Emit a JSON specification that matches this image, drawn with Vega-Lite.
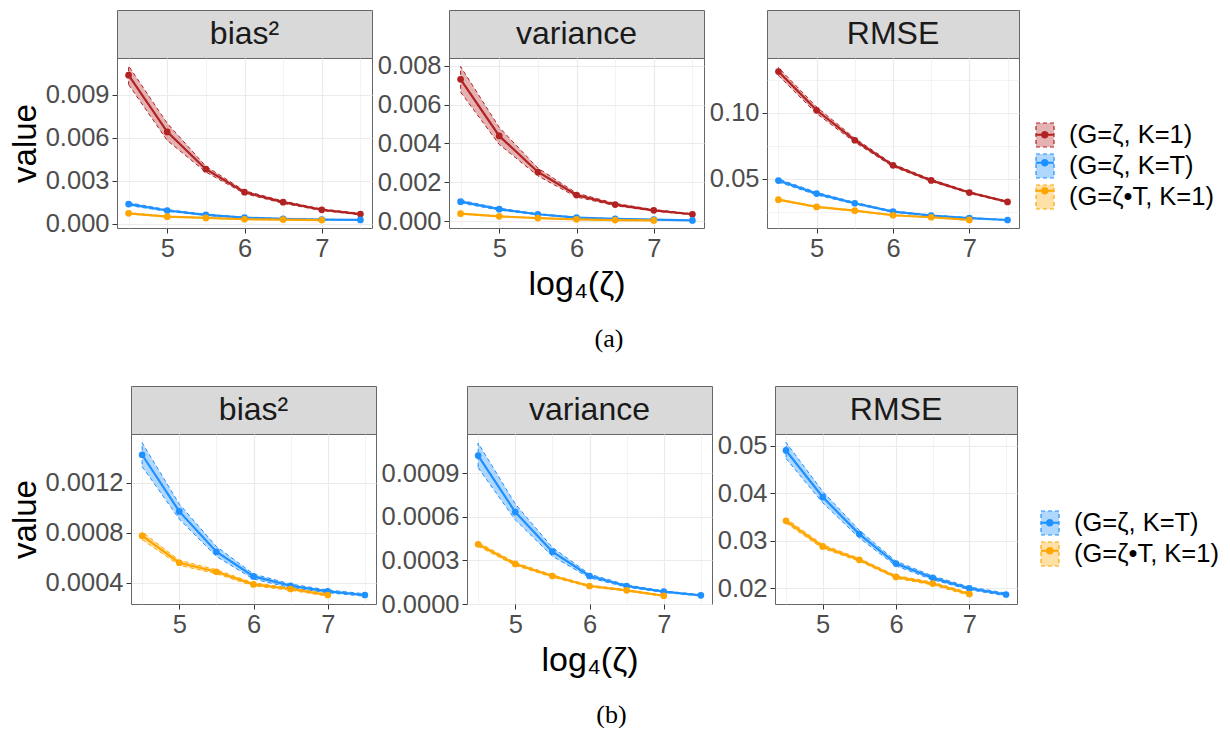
{
"$schema": "https://vega.github.io/schema/vega-lite/v6.json",
"padding": {"left": 4, "top": 9, "right": 0, "bottom": 0},
"background": "white",
"datasets": {"d": [
{"f":"a","m":"b2","s":"(G=ζ, K=1)","x":4.5,"v":0.01035,"lo":0.0097,"hi":0.011},
{"f":"a","m":"b2","s":"(G=ζ, K=1)","x":5,"v":0.0064,"lo":0.0058,"hi":0.007},
{"f":"a","m":"b2","s":"(G=ζ, K=1)","x":5.5,"v":0.0038,"lo":0.0036,"hi":0.004},
{"f":"a","m":"b2","s":"(G=ζ, K=1)","x":6,"v":0.0022,"lo":0.0021,"hi":0.0023},
{"f":"a","m":"b2","s":"(G=ζ, K=1)","x":6.5,"v":0.0015,"lo":0.00142,"hi":0.00158},
{"f":"a","m":"b2","s":"(G=ζ, K=1)","x":7,"v":0.00097,"lo":0.00091,"hi":0.00103},
{"f":"a","m":"b2","s":"(G=ζ, K=1)","x":7.5,"v":0.00067,"lo":0.00062,"hi":0.00072},
{"f":"a","m":"b2","s":"(G=ζ, K=T)","x":4.5,"v":0.00137,"lo":0.00127,"hi":0.00147},
{"f":"a","m":"b2","s":"(G=ζ, K=T)","x":5,"v":0.00092,"lo":0.00086,"hi":0.00098},
{"f":"a","m":"b2","s":"(G=ζ, K=T)","x":5.5,"v":0.00062,"lo":0.00058,"hi":0.00066},
{"f":"a","m":"b2","s":"(G=ζ, K=T)","x":6,"v":0.00042,"lo":0.00039,"hi":0.00045},
{"f":"a","m":"b2","s":"(G=ζ, K=T)","x":6.5,"v":0.00034,"lo":0.00032,"hi":0.00036},
{"f":"a","m":"b2","s":"(G=ζ, K=T)","x":7,"v":0.00029,"lo":0.00027,"hi":0.00031},
{"f":"a","m":"b2","s":"(G=ζ, K=T)","x":7.5,"v":0.00026,"lo":0.00025,"hi":0.00027},
{"f":"a","m":"b2","s":"(G=ζ•T, K=1)","x":4.5,"v":0.00072,"lo":0.00068,"hi":0.00076},
{"f":"a","m":"b2","s":"(G=ζ•T, K=1)","x":5,"v":0.00049,"lo":0.00046,"hi":0.00052},
{"f":"a","m":"b2","s":"(G=ζ•T, K=1)","x":5.5,"v":0.0004,"lo":0.00038,"hi":0.00042},
{"f":"a","m":"b2","s":"(G=ζ•T, K=1)","x":6,"v":0.00031,"lo":0.00029,"hi":0.00033},
{"f":"a","m":"b2","s":"(G=ζ•T, K=1)","x":6.5,"v":0.00029,"lo":0.00027,"hi":0.00031},
{"f":"a","m":"b2","s":"(G=ζ•T, K=1)","x":7,"v":0.00025,"lo":0.00023,"hi":0.00027},
{"f":"a","m":"var","s":"(G=ζ, K=1)","x":4.5,"v":0.00731,"lo":0.00665,"hi":0.00797},
{"f":"a","m":"var","s":"(G=ζ, K=1)","x":5,"v":0.00439,"lo":0.00395,"hi":0.00483},
{"f":"a","m":"var","s":"(G=ζ, K=1)","x":5.5,"v":0.00253,"lo":0.00233,"hi":0.00273},
{"f":"a","m":"var","s":"(G=ζ, K=1)","x":6,"v":0.00134,"lo":0.00124,"hi":0.00144},
{"f":"a","m":"var","s":"(G=ζ, K=1)","x":6.5,"v":0.00085,"lo":0.00079,"hi":0.00091},
{"f":"a","m":"var","s":"(G=ζ, K=1)","x":7,"v":0.00055,"lo":0.00051,"hi":0.00059},
{"f":"a","m":"var","s":"(G=ζ, K=1)","x":7.5,"v":0.00035,"lo":0.00032,"hi":0.00038},
{"f":"a","m":"var","s":"(G=ζ, K=T)","x":4.5,"v":0.001,"lo":0.00093,"hi":0.00107},
{"f":"a","m":"var","s":"(G=ζ, K=T)","x":5,"v":0.00061,"lo":0.00056,"hi":0.00066},
{"f":"a","m":"var","s":"(G=ζ, K=T)","x":5.5,"v":0.00035,"lo":0.00032,"hi":0.00038},
{"f":"a","m":"var","s":"(G=ζ, K=T)","x":6,"v":0.00018,"lo":0.00016,"hi":0.0002},
{"f":"a","m":"var","s":"(G=ζ, K=T)","x":6.5,"v":0.00011,"lo":0.0001,"hi":0.00012},
{"f":"a","m":"var","s":"(G=ζ, K=T)","x":7,"v":0.00007,"lo":0.00006,"hi":0.00008},
{"f":"a","m":"var","s":"(G=ζ, K=T)","x":7.5,"v":0.00003,"lo":0.000025,"hi":0.000035},
{"f":"a","m":"var","s":"(G=ζ•T, K=1)","x":4.5,"v":0.00038,"lo":0.00036,"hi":0.0004},
{"f":"a","m":"var","s":"(G=ζ•T, K=1)","x":5,"v":0.00024,"lo":0.00023,"hi":0.00025},
{"f":"a","m":"var","s":"(G=ζ•T, K=1)","x":5.5,"v":0.00015,"lo":0.00014,"hi":0.00016},
{"f":"a","m":"var","s":"(G=ζ•T, K=1)","x":6,"v":0.00009,"lo":0.000085,"hi":0.000095},
{"f":"a","m":"var","s":"(G=ζ•T, K=1)","x":6.5,"v":0.00005,"lo":0.000046,"hi":0.000054},
{"f":"a","m":"var","s":"(G=ζ•T, K=1)","x":7,"v":0.00003,"lo":0.000027,"hi":0.000033},
{"f":"a","m":"rmse","s":"(G=ζ, K=1)","x":4.5,"v":0.1311,"lo":0.1281,"hi":0.1341},
{"f":"a","m":"rmse","s":"(G=ζ, K=1)","x":5,"v":0.1018,"lo":0.0993,"hi":0.1043},
{"f":"a","m":"rmse","s":"(G=ζ, K=1)","x":5.5,"v":0.0791,"lo":0.0776,"hi":0.0806},
{"f":"a","m":"rmse","s":"(G=ζ, K=1)","x":6,"v":0.0601,"lo":0.0591,"hi":0.0611},
{"f":"a","m":"rmse","s":"(G=ζ, K=1)","x":6.5,"v":0.0487,"lo":0.0479,"hi":0.0495},
{"f":"a","m":"rmse","s":"(G=ζ, K=1)","x":7,"v":0.0395,"lo":0.0389,"hi":0.0401},
{"f":"a","m":"rmse","s":"(G=ζ, K=1)","x":7.5,"v":0.0324,"lo":0.0319,"hi":0.0329},
{"f":"a","m":"rmse","s":"(G=ζ, K=T)","x":4.5,"v":0.0486,"lo":0.0474,"hi":0.0498},
{"f":"a","m":"rmse","s":"(G=ζ, K=T)","x":5,"v":0.0387,"lo":0.0377,"hi":0.0397},
{"f":"a","m":"rmse","s":"(G=ζ, K=T)","x":5.5,"v":0.0314,"lo":0.0307,"hi":0.0321},
{"f":"a","m":"rmse","s":"(G=ζ, K=T)","x":6,"v":0.0251,"lo":0.0246,"hi":0.0256},
{"f":"a","m":"rmse","s":"(G=ζ, K=T)","x":6.5,"v":0.0221,"lo":0.0217,"hi":0.0225},
{"f":"a","m":"rmse","s":"(G=ζ, K=T)","x":7,"v":0.0202,"lo":0.0199,"hi":0.0205},
{"f":"a","m":"rmse","s":"(G=ζ, K=T)","x":7.5,"v":0.0187,"lo":0.0184,"hi":0.019},
{"f":"a","m":"rmse","s":"(G=ζ•T, K=1)","x":4.5,"v":0.0341,"lo":0.0337,"hi":0.0345},
{"f":"a","m":"rmse","s":"(G=ζ•T, K=1)","x":5,"v":0.0286,"lo":0.0283,"hi":0.0289},
{"f":"a","m":"rmse","s":"(G=ζ•T, K=1)","x":5.5,"v":0.0258,"lo":0.0255,"hi":0.0261},
{"f":"a","m":"rmse","s":"(G=ζ•T, K=1)","x":6,"v":0.0223,"lo":0.022,"hi":0.0226},
{"f":"a","m":"rmse","s":"(G=ζ•T, K=1)","x":6.5,"v":0.0208,"lo":0.0205,"hi":0.0211},
{"f":"a","m":"rmse","s":"(G=ζ•T, K=1)","x":7,"v":0.0188,"lo":0.0185,"hi":0.0191},
{"f":"b","m":"b2","s":"(G=ζ, K=T)","x":4.5,"v":0.001424,"lo":0.00133,"hi":0.00152},
{"f":"b","m":"b2","s":"(G=ζ, K=T)","x":5,"v":0.000971,"lo":0.00091,"hi":0.00103},
{"f":"b","m":"b2","s":"(G=ζ, K=T)","x":5.5,"v":0.000648,"lo":0.00061,"hi":0.00069},
{"f":"b","m":"b2","s":"(G=ζ, K=T)","x":6,"v":0.000451,"lo":0.00043,"hi":0.00047},
{"f":"b","m":"b2","s":"(G=ζ, K=T)","x":6.5,"v":0.000376,"lo":0.00036,"hi":0.00039},
{"f":"b","m":"b2","s":"(G=ζ, K=T)","x":7,"v":0.000331,"lo":0.00032,"hi":0.000342},
{"f":"b","m":"b2","s":"(G=ζ, K=T)","x":7.5,"v":0.000302,"lo":0.000292,"hi":0.000312},
{"f":"b","m":"b2","s":"(G=ζ•T, K=1)","x":4.5,"v":0.000776,"lo":0.000745,"hi":0.000807},
{"f":"b","m":"b2","s":"(G=ζ•T, K=1)","x":5,"v":0.00056,"lo":0.00054,"hi":0.00058},
{"f":"b","m":"b2","s":"(G=ζ•T, K=1)","x":5.5,"v":0.000488,"lo":0.000472,"hi":0.000504},
{"f":"b","m":"b2","s":"(G=ζ•T, K=1)","x":6,"v":0.000387,"lo":0.000375,"hi":0.000399},
{"f":"b","m":"b2","s":"(G=ζ•T, K=1)","x":6.5,"v":0.00035,"lo":0.00034,"hi":0.00036},
{"f":"b","m":"b2","s":"(G=ζ•T, K=1)","x":7,"v":0.000302,"lo":0.000292,"hi":0.000312},
{"f":"b","m":"var","s":"(G=ζ, K=T)","x":4.5,"v":0.001023,"lo":0.00094,"hi":0.00111},
{"f":"b","m":"var","s":"(G=ζ, K=T)","x":5,"v":0.000634,"lo":0.00058,"hi":0.00069},
{"f":"b","m":"var","s":"(G=ζ, K=T)","x":5.5,"v":0.000361,"lo":0.00033,"hi":0.00039},
{"f":"b","m":"var","s":"(G=ζ, K=T)","x":6,"v":0.000193,"lo":0.00018,"hi":0.000206},
{"f":"b","m":"var","s":"(G=ζ, K=T)","x":6.5,"v":0.000124,"lo":0.000116,"hi":0.000132},
{"f":"b","m":"var","s":"(G=ζ, K=T)","x":7,"v":0.000085,"lo":0.00008,"hi":0.00009},
{"f":"b","m":"var","s":"(G=ζ, K=T)","x":7.5,"v":0.00006,"lo":0.000056,"hi":0.000064},
{"f":"b","m":"var","s":"(G=ζ•T, K=1)","x":4.5,"v":0.000412,"lo":0.000398,"hi":0.000426},
{"f":"b","m":"var","s":"(G=ζ•T, K=1)","x":5,"v":0.000276,"lo":0.000266,"hi":0.000286},
{"f":"b","m":"var","s":"(G=ζ•T, K=1)","x":5.5,"v":0.000193,"lo":0.000185,"hi":0.000201},
{"f":"b","m":"var","s":"(G=ζ•T, K=1)","x":6,"v":0.000124,"lo":0.000118,"hi":0.00013},
{"f":"b","m":"var","s":"(G=ζ•T, K=1)","x":6.5,"v":0.000094,"lo":0.000089,"hi":0.000099},
{"f":"b","m":"var","s":"(G=ζ•T, K=1)","x":7,"v":0.000057,"lo":0.000053,"hi":0.000061},
{"f":"b","m":"rmse","s":"(G=ζ, K=T)","x":4.5,"v":0.049,"lo":0.0473,"hi":0.0507},
{"f":"b","m":"rmse","s":"(G=ζ, K=T)","x":5,"v":0.0392,"lo":0.038,"hi":0.0404},
{"f":"b","m":"rmse","s":"(G=ζ, K=T)","x":5.5,"v":0.0314,"lo":0.0306,"hi":0.0322},
{"f":"b","m":"rmse","s":"(G=ζ, K=T)","x":6,"v":0.0252,"lo":0.0247,"hi":0.0257},
{"f":"b","m":"rmse","s":"(G=ζ, K=T)","x":6.5,"v":0.0222,"lo":0.0218,"hi":0.0226},
{"f":"b","m":"rmse","s":"(G=ζ, K=T)","x":7,"v":0.02,"lo":0.0197,"hi":0.0203},
{"f":"b","m":"rmse","s":"(G=ζ, K=T)","x":7.5,"v":0.0187,"lo":0.0184,"hi":0.019},
{"f":"b","m":"rmse","s":"(G=ζ•T, K=1)","x":4.5,"v":0.0342,"lo":0.0337,"hi":0.0347},
{"f":"b","m":"rmse","s":"(G=ζ•T, K=1)","x":5,"v":0.0288,"lo":0.0284,"hi":0.0292},
{"f":"b","m":"rmse","s":"(G=ζ•T, K=1)","x":5.5,"v":0.026,"lo":0.0257,"hi":0.0263},
{"f":"b","m":"rmse","s":"(G=ζ•T, K=1)","x":6,"v":0.0224,"lo":0.0221,"hi":0.0227},
{"f":"b","m":"rmse","s":"(G=ζ•T, K=1)","x":6.5,"v":0.021,"lo":0.0207,"hi":0.0213},
{"f":"b","m":"rmse","s":"(G=ζ•T, K=1)","x":7,"v":0.0188,"lo":0.0185,"hi":0.0191}
]},
"spacing": 33,
"resolve": {"scale": {"fill": "independent", "stroke": "independent", "color": "independent", "x": "independent", "y": "independent"}, "legend": {"fill": "independent", "stroke": "independent", "color": "independent"}},
"vconcat": [
{
"title": {"text": "(a)", "orient": "bottom", "anchor": "middle", "font": "Liberation Serif", "fontSize": 26, "fontWeight": "normal", "offset": 24, "color": "#000000"},
"spacing": 3,
"resolve": {"scale": {"x": "independent", "y": "independent"}},
"hconcat": [
{"width": 1, "height": 10, "view": {"stroke": null, "fill": null}, "data": {"values": [{"t": ""}]}, "mark": {"type": "text"}, "encoding": {"text": {"field": "t"}}},
{"bounds": "flush", "spacing": 0, "vconcat": [
 {"width": 255, "height": 48, "view": {"fill": "#D9D9D9", "stroke": "#666666"}, "data": {"values": [{"t": "bias²"}]}, "mark": {"type": "text", "fontSize": 32, "color": "#1A1A1A"}, "encoding": {"text": {"field": "t"}}},
 {"width": 255, "height": 170, "data": {"name": "d"}, "transform": [{"filter": "datum.f=='a' && datum.m=='b2'"}],
  "layer": [
   {"mark": {"type": "area", "fillOpacity": 0.35, "strokeWidth": 1, "strokeDash": [4, 3]},
    "encoding": {
     "x": {"field": "x", "type": "quantitative", "scale": {"domain": [4.35, 7.65], "nice": false, "zero": false}, "axis": {"values": [4.5, 5, 5.5, 6, 6.5, 7, 7.5], "labelExpr": "datum.value % 1 == 0 ? format(datum.value, 'd') : ''", "tickOpacity": {"condition": {"test": "datum.value % 1 == 0", "value": 1}, "value": 0}, "gridWidth": {"condition": {"test": "datum.value % 1 == 0", "value": 1.2}, "value": 0.6}, "title": null}},
     "y": {"field": "lo", "type": "quantitative", "scale": {"domain": [-0.0003, 0.01155], "nice": false, "zero": false}, "axis": {"values": [0, 0.0015, 0.003, 0.0045, 0.006, 0.0075, 0.009, 0.0105], "labelExpr": "abs(datum.value/0.003-round(datum.value/0.003))<0.01 ? format(datum.value, '.3f') : ''", "tickOpacity": {"condition": {"test": "abs(datum.value/0.003-round(datum.value/0.003))<0.01", "value": 1}, "value": 0}, "gridWidth": {"condition": {"test": "abs(datum.value/0.003-round(datum.value/0.003))<0.01", "value": 1.2}, "value": 0.6}, "title": "value"}},
     "y2": {"field": "hi"},
     "fill": {"field": "s", "type": "nominal", "scale": {"domain": ["(G=ζ, K=1)", "(G=ζ, K=T)", "(G=ζ•T, K=1)"], "range": ["#B22222", "#1E90FF", "#FFA500"]}, "legend": {"orient": "none", "legendX": 1028, "legendY": 112, "title": null, "symbolType": "M-0.75,-1H0.75V1H-0.75Z", "symbolSize": 576, "rowPadding": 1, "labelOffset": 11, "symbolDash": [4, 3], "symbolStrokeWidth": 1.2, "encode": {"symbols": {"update": {"fillOpacity": {"value": 0.35}}}}}},
     "stroke": {"field": "s", "type": "nominal", "scale": {"domain": ["(G=ζ, K=1)", "(G=ζ, K=T)", "(G=ζ•T, K=1)"], "range": ["#B22222", "#1E90FF", "#FFA500"]}, "legend": {"orient": "none", "legendX": 1028, "legendY": 112, "title": null, "symbolType": "M-0.75,-1H0.75V1H-0.75Z", "symbolSize": 576, "rowPadding": 1, "labelOffset": 11, "symbolDash": [4, 3], "symbolStrokeWidth": 1.2, "encode": {"symbols": {"update": {"fillOpacity": {"value": 0.35}}}}}}
    }},
   {"mark": {"type": "line", "strokeWidth": 2.2},
    "encoding": {
     "x": {"field": "x", "type": "quantitative", "scale": {"domain": [4.35, 7.65], "nice": false, "zero": false}},
     "y": {"field": "v", "type": "quantitative", "scale": {"domain": [-0.0003, 0.01155], "nice": false, "zero": false}},
     "color": {"field": "s", "type": "nominal", "scale": {"range": ["#B22222", "#1E90FF", "#FFA500"]}, "legend": {"orient": "none", "legendX": 1028, "legendY": 112, "title": null, "symbolType": "M-1,0H1M0.3,0A0.3,0.3 0 1,1 -0.3,0A0.3,0.3 0 1,1 0.3,0", "symbolSize": 324, "symbolStrokeWidth": 2.2, "symbolDash": [], "rowPadding": 1, "labelOffset": 11, "labelExpr": "''"}}
    }},
   {"mark": {"type": "point", "filled": true, "size": 45, "opacity": 1},
    "encoding": {
     "x": {"field": "x", "type": "quantitative", "scale": {"domain": [4.35, 7.65], "nice": false, "zero": false}},
     "y": {"field": "v", "type": "quantitative", "scale": {"domain": [-0.0003, 0.01155], "nice": false, "zero": false}},
     "color": {"field": "s", "type": "nominal", "scale": {"range": ["#B22222", "#1E90FF", "#FFA500"]}, "legend": {"orient": "none", "legendX": 1028, "legendY": 112, "title": null, "symbolType": "M-1,0H1M0.3,0A0.3,0.3 0 1,1 -0.3,0A0.3,0.3 0 1,1 0.3,0", "symbolSize": 324, "symbolStrokeWidth": 2.2, "symbolDash": [], "rowPadding": 1, "labelOffset": 11, "labelExpr": "''"}}
    }}
  ]}
]},
{"bounds": "flush", "spacing": 0, "vconcat": [
 {"width": 255, "height": 48, "view": {"fill": "#D9D9D9", "stroke": "#666666"}, "data": {"values": [{"t": "variance"}]}, "mark": {"type": "text", "fontSize": 32, "color": "#1A1A1A"}, "encoding": {"text": {"field": "t"}}},
 {"width": 255, "height": 170, "data": {"name": "d"}, "transform": [{"filter": "datum.f=='a' && datum.m=='var'"}],
  "layer": [
   {"mark": {"type": "area", "fillOpacity": 0.35, "strokeWidth": 1, "strokeDash": [4, 3]},
    "encoding": {
     "x": {"field": "x", "type": "quantitative", "scale": {"domain": [4.35, 7.65], "nice": false, "zero": false}, "axis": {"values": [4.5, 5, 5.5, 6, 6.5, 7, 7.5], "labelExpr": "datum.value % 1 == 0 ? format(datum.value, 'd') : ''", "tickOpacity": {"condition": {"test": "datum.value % 1 == 0", "value": 1}, "value": 0}, "gridWidth": {"condition": {"test": "datum.value % 1 == 0", "value": 1.2}, "value": 0.6}, "title": "log₄(ζ)"}},
     "y": {"field": "lo", "type": "quantitative", "scale": {"domain": [-0.00036, 0.00841], "nice": false, "zero": false}, "axis": {"values": [0, 0.001, 0.002, 0.003, 0.004, 0.005, 0.006, 0.007, 0.008], "labelExpr": "abs(datum.value/0.002-round(datum.value/0.002))<0.01 ? format(datum.value, '.3f') : ''", "tickOpacity": {"condition": {"test": "abs(datum.value/0.002-round(datum.value/0.002))<0.01", "value": 1}, "value": 0}, "gridWidth": {"condition": {"test": "abs(datum.value/0.002-round(datum.value/0.002))<0.01", "value": 1.2}, "value": 0.6}, "title": null}},
     "y2": {"field": "hi"},
     "fill": {"field": "s", "type": "nominal", "scale": {"domain": ["(G=ζ, K=1)", "(G=ζ, K=T)", "(G=ζ•T, K=1)"], "range": ["#B22222", "#1E90FF", "#FFA500"]}, "legend": {"orient": "none", "legendX": 1028, "legendY": 112, "title": null, "symbolType": "M-0.75,-1H0.75V1H-0.75Z", "symbolSize": 576, "rowPadding": 1, "labelOffset": 11, "symbolDash": [4, 3], "symbolStrokeWidth": 1.2, "encode": {"symbols": {"update": {"fillOpacity": {"value": 0.35}}}}}},
     "stroke": {"field": "s", "type": "nominal", "scale": {"domain": ["(G=ζ, K=1)", "(G=ζ, K=T)", "(G=ζ•T, K=1)"], "range": ["#B22222", "#1E90FF", "#FFA500"]}, "legend": {"orient": "none", "legendX": 1028, "legendY": 112, "title": null, "symbolType": "M-0.75,-1H0.75V1H-0.75Z", "symbolSize": 576, "rowPadding": 1, "labelOffset": 11, "symbolDash": [4, 3], "symbolStrokeWidth": 1.2, "encode": {"symbols": {"update": {"fillOpacity": {"value": 0.35}}}}}}
    }},
   {"mark": {"type": "line", "strokeWidth": 2.2},
    "encoding": {
     "x": {"field": "x", "type": "quantitative", "scale": {"domain": [4.35, 7.65], "nice": false, "zero": false}},
     "y": {"field": "v", "type": "quantitative", "scale": {"domain": [-0.00036, 0.00841], "nice": false, "zero": false}},
     "color": {"field": "s", "type": "nominal", "scale": {"range": ["#B22222", "#1E90FF", "#FFA500"]}, "legend": {"orient": "none", "legendX": 1028, "legendY": 112, "title": null, "symbolType": "M-1,0H1M0.3,0A0.3,0.3 0 1,1 -0.3,0A0.3,0.3 0 1,1 0.3,0", "symbolSize": 324, "symbolStrokeWidth": 2.2, "symbolDash": [], "rowPadding": 1, "labelOffset": 11, "labelExpr": "''"}}
    }},
   {"mark": {"type": "point", "filled": true, "size": 45, "opacity": 1},
    "encoding": {
     "x": {"field": "x", "type": "quantitative", "scale": {"domain": [4.35, 7.65], "nice": false, "zero": false}},
     "y": {"field": "v", "type": "quantitative", "scale": {"domain": [-0.00036, 0.00841], "nice": false, "zero": false}},
     "color": {"field": "s", "type": "nominal", "scale": {"range": ["#B22222", "#1E90FF", "#FFA500"]}, "legend": {"orient": "none", "legendX": 1028, "legendY": 112, "title": null, "symbolType": "M-1,0H1M0.3,0A0.3,0.3 0 1,1 -0.3,0A0.3,0.3 0 1,1 0.3,0", "symbolSize": 324, "symbolStrokeWidth": 2.2, "symbolDash": [], "rowPadding": 1, "labelOffset": 11, "labelExpr": "''"}}
    }}
  ]}
]},
{"bounds": "flush", "spacing": 0, "vconcat": [
 {"width": 252, "height": 48, "view": {"fill": "#D9D9D9", "stroke": "#666666"}, "data": {"values": [{"t": "RMSE"}]}, "mark": {"type": "text", "fontSize": 32, "color": "#1A1A1A"}, "encoding": {"text": {"field": "t"}}},
 {"width": 252, "height": 170, "data": {"name": "d"}, "transform": [{"filter": "datum.f=='a' && datum.m=='rmse'"}],
  "layer": [
   {"mark": {"type": "area", "fillOpacity": 0.35, "strokeWidth": 1, "strokeDash": [4, 3]},
    "encoding": {
     "x": {"field": "x", "type": "quantitative", "scale": {"domain": [4.35, 7.65], "nice": false, "zero": false}, "axis": {"values": [4.5, 5, 5.5, 6, 6.5, 7, 7.5], "labelExpr": "datum.value % 1 == 0 ? format(datum.value, 'd') : ''", "tickOpacity": {"condition": {"test": "datum.value % 1 == 0", "value": 1}, "value": 0}, "gridWidth": {"condition": {"test": "datum.value % 1 == 0", "value": 1.2}, "value": 0.6}, "title": null}},
     "y": {"field": "lo", "type": "quantitative", "scale": {"domain": [0.01265, 0.1414], "nice": false, "zero": false}, "axis": {"values": [0.025, 0.05, 0.075, 0.1, 0.125], "labelExpr": "abs(datum.value/0.05-round(datum.value/0.05))<0.01 ? format(datum.value, '.2f') : ''", "tickOpacity": {"condition": {"test": "abs(datum.value/0.05-round(datum.value/0.05))<0.01", "value": 1}, "value": 0}, "gridWidth": {"condition": {"test": "abs(datum.value/0.05-round(datum.value/0.05))<0.01", "value": 1.2}, "value": 0.6}, "title": null}},
     "y2": {"field": "hi"},
     "fill": {"field": "s", "type": "nominal", "scale": {"domain": ["(G=ζ, K=1)", "(G=ζ, K=T)", "(G=ζ•T, K=1)"], "range": ["#B22222", "#1E90FF", "#FFA500"]}, "legend": {"orient": "none", "legendX": 1028, "legendY": 112, "title": null, "symbolType": "M-0.75,-1H0.75V1H-0.75Z", "symbolSize": 576, "rowPadding": 1, "labelOffset": 11, "symbolDash": [4, 3], "symbolStrokeWidth": 1.2, "encode": {"symbols": {"update": {"fillOpacity": {"value": 0.35}}}}}},
     "stroke": {"field": "s", "type": "nominal", "scale": {"domain": ["(G=ζ, K=1)", "(G=ζ, K=T)", "(G=ζ•T, K=1)"], "range": ["#B22222", "#1E90FF", "#FFA500"]}, "legend": {"orient": "none", "legendX": 1028, "legendY": 112, "title": null, "symbolType": "M-0.75,-1H0.75V1H-0.75Z", "symbolSize": 576, "rowPadding": 1, "labelOffset": 11, "symbolDash": [4, 3], "symbolStrokeWidth": 1.2, "encode": {"symbols": {"update": {"fillOpacity": {"value": 0.35}}}}}}
    }},
   {"mark": {"type": "line", "strokeWidth": 2.2},
    "encoding": {
     "x": {"field": "x", "type": "quantitative", "scale": {"domain": [4.35, 7.65], "nice": false, "zero": false}},
     "y": {"field": "v", "type": "quantitative", "scale": {"domain": [0.01265, 0.1414], "nice": false, "zero": false}},
     "color": {"field": "s", "type": "nominal", "scale": {"range": ["#B22222", "#1E90FF", "#FFA500"]}, "legend": {"orient": "none", "legendX": 1028, "legendY": 112, "title": null, "symbolType": "M-1,0H1M0.3,0A0.3,0.3 0 1,1 -0.3,0A0.3,0.3 0 1,1 0.3,0", "symbolSize": 324, "symbolStrokeWidth": 2.2, "symbolDash": [], "rowPadding": 1, "labelOffset": 11, "labelExpr": "''"}}
    }},
   {"mark": {"type": "point", "filled": true, "size": 45, "opacity": 1},
    "encoding": {
     "x": {"field": "x", "type": "quantitative", "scale": {"domain": [4.35, 7.65], "nice": false, "zero": false}},
     "y": {"field": "v", "type": "quantitative", "scale": {"domain": [0.01265, 0.1414], "nice": false, "zero": false}},
     "color": {"field": "s", "type": "nominal", "scale": {"range": ["#B22222", "#1E90FF", "#FFA500"]}, "legend": {"orient": "none", "legendX": 1028, "legendY": 112, "title": null, "symbolType": "M-1,0H1M0.3,0A0.3,0.3 0 1,1 -0.3,0A0.3,0.3 0 1,1 0.3,0", "symbolSize": 324, "symbolStrokeWidth": 2.2, "symbolDash": [], "rowPadding": 1, "labelOffset": 11, "labelExpr": "''"}}
    }}
  ]}
]}
]
},
{
"title": {"text": "(b)", "orient": "bottom", "anchor": "middle", "font": "Liberation Serif", "fontSize": 26, "fontWeight": "normal", "offset": 24, "color": "#000000"},
"spacing": 3,
"resolve": {"scale": {"x": "independent", "y": "independent"}},
"hconcat": [
{"width": 1, "height": 10, "view": {"stroke": null, "fill": null}, "data": {"values": [{"t": ""}]}, "mark": {"type": "text"}, "encoding": {"text": {"field": "t"}}},
{"bounds": "flush", "spacing": 0, "vconcat": [
 {"width": 245, "height": 48, "view": {"fill": "#D9D9D9", "stroke": "#666666"}, "data": {"values": [{"t": "bias²"}]}, "mark": {"type": "text", "fontSize": 32, "color": "#1A1A1A"}, "encoding": {"text": {"field": "t"}}},
 {"width": 245, "height": 170, "data": {"name": "d"}, "transform": [{"filter": "datum.f=='b' && datum.m=='b2'"}],
  "layer": [
   {"mark": {"type": "area", "fillOpacity": 0.35, "strokeWidth": 1, "strokeDash": [4, 3]},
    "encoding": {
     "x": {"field": "x", "type": "quantitative", "scale": {"domain": [4.35, 7.65], "nice": false, "zero": false}, "axis": {"values": [4.5, 5, 5.5, 6, 6.5, 7, 7.5], "labelExpr": "datum.value % 1 == 0 ? format(datum.value, 'd') : ''", "tickOpacity": {"condition": {"test": "datum.value % 1 == 0", "value": 1}, "value": 0}, "gridWidth": {"condition": {"test": "datum.value % 1 == 0", "value": 1.2}, "value": 0.6}, "title": null}},
     "y": {"field": "lo", "type": "quantitative", "scale": {"domain": [0.00023, 0.00159], "nice": false, "zero": false}, "axis": {"values": [0.0004, 0.0006, 0.0008, 0.001, 0.0012, 0.0014], "labelExpr": "abs(datum.value/0.0004-round(datum.value/0.0004))<0.01 ? format(datum.value, '.4f') : ''", "tickOpacity": {"condition": {"test": "abs(datum.value/0.0004-round(datum.value/0.0004))<0.01", "value": 1}, "value": 0}, "gridWidth": {"condition": {"test": "abs(datum.value/0.0004-round(datum.value/0.0004))<0.01", "value": 1.2}, "value": 0.6}, "title": "value"}},
     "y2": {"field": "hi"},
     "fill": {"field": "s", "type": "nominal", "scale": {"domain": ["(G=ζ, K=T)", "(G=ζ•T, K=1)"], "range": ["#1E90FF", "#FFA500"]}, "legend": {"orient": "none", "legendX": 1033, "legendY": 124, "title": null, "symbolType": "M-0.75,-1H0.75V1H-0.75Z", "symbolSize": 576, "rowPadding": 1, "labelOffset": 11, "symbolDash": [4, 3], "symbolStrokeWidth": 1.2, "encode": {"symbols": {"update": {"fillOpacity": {"value": 0.35}}}}}},
     "stroke": {"field": "s", "type": "nominal", "scale": {"domain": ["(G=ζ, K=T)", "(G=ζ•T, K=1)"], "range": ["#1E90FF", "#FFA500"]}, "legend": {"orient": "none", "legendX": 1033, "legendY": 124, "title": null, "symbolType": "M-0.75,-1H0.75V1H-0.75Z", "symbolSize": 576, "rowPadding": 1, "labelOffset": 11, "symbolDash": [4, 3], "symbolStrokeWidth": 1.2, "encode": {"symbols": {"update": {"fillOpacity": {"value": 0.35}}}}}}
    }},
   {"mark": {"type": "line", "strokeWidth": 2.2},
    "encoding": {
     "x": {"field": "x", "type": "quantitative", "scale": {"domain": [4.35, 7.65], "nice": false, "zero": false}},
     "y": {"field": "v", "type": "quantitative", "scale": {"domain": [0.00023, 0.00159], "nice": false, "zero": false}},
     "color": {"field": "s", "type": "nominal", "scale": {"range": ["#1E90FF", "#FFA500"]}, "legend": {"orient": "none", "legendX": 1033, "legendY": 124, "title": null, "symbolType": "M-1,0H1M0.3,0A0.3,0.3 0 1,1 -0.3,0A0.3,0.3 0 1,1 0.3,0", "symbolSize": 324, "symbolStrokeWidth": 2.2, "symbolDash": [], "rowPadding": 1, "labelOffset": 11, "labelExpr": "''"}}
    }},
   {"mark": {"type": "point", "filled": true, "size": 45, "opacity": 1},
    "encoding": {
     "x": {"field": "x", "type": "quantitative", "scale": {"domain": [4.35, 7.65], "nice": false, "zero": false}},
     "y": {"field": "v", "type": "quantitative", "scale": {"domain": [0.00023, 0.00159], "nice": false, "zero": false}},
     "color": {"field": "s", "type": "nominal", "scale": {"range": ["#1E90FF", "#FFA500"]}, "legend": {"orient": "none", "legendX": 1033, "legendY": 124, "title": null, "symbolType": "M-1,0H1M0.3,0A0.3,0.3 0 1,1 -0.3,0A0.3,0.3 0 1,1 0.3,0", "symbolSize": 324, "symbolStrokeWidth": 2.2, "symbolDash": [], "rowPadding": 1, "labelOffset": 11, "labelExpr": "''"}}
    }}
  ]}
]},
{"bounds": "flush", "spacing": 0, "vconcat": [
 {"width": 245, "height": 48, "view": {"fill": "#D9D9D9", "stroke": "#666666"}, "data": {"values": [{"t": "variance"}]}, "mark": {"type": "text", "fontSize": 32, "color": "#1A1A1A"}, "encoding": {"text": {"field": "t"}}},
 {"width": 245, "height": 170, "data": {"name": "d"}, "transform": [{"filter": "datum.f=='b' && datum.m=='var'"}],
  "layer": [
   {"mark": {"type": "area", "fillOpacity": 0.35, "strokeWidth": 1, "strokeDash": [4, 3]},
    "encoding": {
     "x": {"field": "x", "type": "quantitative", "scale": {"domain": [4.35, 7.65], "nice": false, "zero": false}, "axis": {"values": [4.5, 5, 5.5, 6, 6.5, 7, 7.5], "labelExpr": "datum.value % 1 == 0 ? format(datum.value, 'd') : ''", "tickOpacity": {"condition": {"test": "datum.value % 1 == 0", "value": 1}, "value": 0}, "gridWidth": {"condition": {"test": "datum.value % 1 == 0", "value": 1.2}, "value": 0.6}, "title": "log₄(ζ)"}},
     "y": {"field": "lo", "type": "quantitative", "scale": {"domain": [0, 0.001172], "nice": false, "zero": false}, "axis": {"values": [0, 0.00015, 0.0003, 0.00045, 0.0006, 0.00075, 0.0009, 0.00105], "labelExpr": "abs(datum.value/0.0003-round(datum.value/0.0003))<0.01 ? format(datum.value, '.4f') : ''", "tickOpacity": {"condition": {"test": "abs(datum.value/0.0003-round(datum.value/0.0003))<0.01", "value": 1}, "value": 0}, "gridWidth": {"condition": {"test": "abs(datum.value/0.0003-round(datum.value/0.0003))<0.01", "value": 1.2}, "value": 0.6}, "title": null}},
     "y2": {"field": "hi"},
     "fill": {"field": "s", "type": "nominal", "scale": {"domain": ["(G=ζ, K=T)", "(G=ζ•T, K=1)"], "range": ["#1E90FF", "#FFA500"]}, "legend": {"orient": "none", "legendX": 1033, "legendY": 124, "title": null, "symbolType": "M-0.75,-1H0.75V1H-0.75Z", "symbolSize": 576, "rowPadding": 1, "labelOffset": 11, "symbolDash": [4, 3], "symbolStrokeWidth": 1.2, "encode": {"symbols": {"update": {"fillOpacity": {"value": 0.35}}}}}},
     "stroke": {"field": "s", "type": "nominal", "scale": {"domain": ["(G=ζ, K=T)", "(G=ζ•T, K=1)"], "range": ["#1E90FF", "#FFA500"]}, "legend": {"orient": "none", "legendX": 1033, "legendY": 124, "title": null, "symbolType": "M-0.75,-1H0.75V1H-0.75Z", "symbolSize": 576, "rowPadding": 1, "labelOffset": 11, "symbolDash": [4, 3], "symbolStrokeWidth": 1.2, "encode": {"symbols": {"update": {"fillOpacity": {"value": 0.35}}}}}}
    }},
   {"mark": {"type": "line", "strokeWidth": 2.2},
    "encoding": {
     "x": {"field": "x", "type": "quantitative", "scale": {"domain": [4.35, 7.65], "nice": false, "zero": false}},
     "y": {"field": "v", "type": "quantitative", "scale": {"domain": [0, 0.001172], "nice": false, "zero": false}},
     "color": {"field": "s", "type": "nominal", "scale": {"range": ["#1E90FF", "#FFA500"]}, "legend": {"orient": "none", "legendX": 1033, "legendY": 124, "title": null, "symbolType": "M-1,0H1M0.3,0A0.3,0.3 0 1,1 -0.3,0A0.3,0.3 0 1,1 0.3,0", "symbolSize": 324, "symbolStrokeWidth": 2.2, "symbolDash": [], "rowPadding": 1, "labelOffset": 11, "labelExpr": "''"}}
    }},
   {"mark": {"type": "point", "filled": true, "size": 45, "opacity": 1},
    "encoding": {
     "x": {"field": "x", "type": "quantitative", "scale": {"domain": [4.35, 7.65], "nice": false, "zero": false}},
     "y": {"field": "v", "type": "quantitative", "scale": {"domain": [0, 0.001172], "nice": false, "zero": false}},
     "color": {"field": "s", "type": "nominal", "scale": {"range": ["#1E90FF", "#FFA500"]}, "legend": {"orient": "none", "legendX": 1033, "legendY": 124, "title": null, "symbolType": "M-1,0H1M0.3,0A0.3,0.3 0 1,1 -0.3,0A0.3,0.3 0 1,1 0.3,0", "symbolSize": 324, "symbolStrokeWidth": 2.2, "symbolDash": [], "rowPadding": 1, "labelOffset": 11, "labelExpr": "''"}}
    }}
  ]}
]},
{"bounds": "flush", "spacing": 0, "vconcat": [
 {"width": 242, "height": 48, "view": {"fill": "#D9D9D9", "stroke": "#666666"}, "data": {"values": [{"t": "RMSE"}]}, "mark": {"type": "text", "fontSize": 32, "color": "#1A1A1A"}, "encoding": {"text": {"field": "t"}}},
 {"width": 242, "height": 170, "data": {"name": "d"}, "transform": [{"filter": "datum.f=='b' && datum.m=='rmse'"}],
  "layer": [
   {"mark": {"type": "area", "fillOpacity": 0.35, "strokeWidth": 1, "strokeDash": [4, 3]},
    "encoding": {
     "x": {"field": "x", "type": "quantitative", "scale": {"domain": [4.35, 7.65], "nice": false, "zero": false}, "axis": {"values": [4.5, 5, 5.5, 6, 6.5, 7, 7.5], "labelExpr": "datum.value % 1 == 0 ? format(datum.value, 'd') : ''", "tickOpacity": {"condition": {"test": "datum.value % 1 == 0", "value": 1}, "value": 0}, "gridWidth": {"condition": {"test": "datum.value % 1 == 0", "value": 1.2}, "value": 0.6}, "title": null}},
     "y": {"field": "lo", "type": "quantitative", "scale": {"domain": [0.0167, 0.05246], "nice": false, "zero": false}, "axis": {"values": [0.02, 0.025, 0.03, 0.035, 0.04, 0.045, 0.05], "labelExpr": "abs(datum.value/0.01-round(datum.value/0.01))<0.01 ? format(datum.value, '.2f') : ''", "tickOpacity": {"condition": {"test": "abs(datum.value/0.01-round(datum.value/0.01))<0.01", "value": 1}, "value": 0}, "gridWidth": {"condition": {"test": "abs(datum.value/0.01-round(datum.value/0.01))<0.01", "value": 1.2}, "value": 0.6}, "title": null}},
     "y2": {"field": "hi"},
     "fill": {"field": "s", "type": "nominal", "scale": {"domain": ["(G=ζ, K=T)", "(G=ζ•T, K=1)"], "range": ["#1E90FF", "#FFA500"]}, "legend": {"orient": "none", "legendX": 1033, "legendY": 124, "title": null, "symbolType": "M-0.75,-1H0.75V1H-0.75Z", "symbolSize": 576, "rowPadding": 1, "labelOffset": 11, "symbolDash": [4, 3], "symbolStrokeWidth": 1.2, "encode": {"symbols": {"update": {"fillOpacity": {"value": 0.35}}}}}},
     "stroke": {"field": "s", "type": "nominal", "scale": {"domain": ["(G=ζ, K=T)", "(G=ζ•T, K=1)"], "range": ["#1E90FF", "#FFA500"]}, "legend": {"orient": "none", "legendX": 1033, "legendY": 124, "title": null, "symbolType": "M-0.75,-1H0.75V1H-0.75Z", "symbolSize": 576, "rowPadding": 1, "labelOffset": 11, "symbolDash": [4, 3], "symbolStrokeWidth": 1.2, "encode": {"symbols": {"update": {"fillOpacity": {"value": 0.35}}}}}}
    }},
   {"mark": {"type": "line", "strokeWidth": 2.2},
    "encoding": {
     "x": {"field": "x", "type": "quantitative", "scale": {"domain": [4.35, 7.65], "nice": false, "zero": false}},
     "y": {"field": "v", "type": "quantitative", "scale": {"domain": [0.0167, 0.05246], "nice": false, "zero": false}},
     "color": {"field": "s", "type": "nominal", "scale": {"range": ["#1E90FF", "#FFA500"]}, "legend": {"orient": "none", "legendX": 1033, "legendY": 124, "title": null, "symbolType": "M-1,0H1M0.3,0A0.3,0.3 0 1,1 -0.3,0A0.3,0.3 0 1,1 0.3,0", "symbolSize": 324, "symbolStrokeWidth": 2.2, "symbolDash": [], "rowPadding": 1, "labelOffset": 11, "labelExpr": "''"}}
    }},
   {"mark": {"type": "point", "filled": true, "size": 45, "opacity": 1},
    "encoding": {
     "x": {"field": "x", "type": "quantitative", "scale": {"domain": [4.35, 7.65], "nice": false, "zero": false}},
     "y": {"field": "v", "type": "quantitative", "scale": {"domain": [0.0167, 0.05246], "nice": false, "zero": false}},
     "color": {"field": "s", "type": "nominal", "scale": {"range": ["#1E90FF", "#FFA500"]}, "legend": {"orient": "none", "legendX": 1033, "legendY": 124, "title": null, "symbolType": "M-1,0H1M0.3,0A0.3,0.3 0 1,1 -0.3,0A0.3,0.3 0 1,1 0.3,0", "symbolSize": 324, "symbolStrokeWidth": 2.2, "symbolDash": [], "rowPadding": 1, "labelOffset": 11, "labelExpr": "''"}}
    }}
  ]}
]}
]
}
],
"config": {
 "font": "Liberation Sans",
 "view": {"stroke": "#666666", "strokeWidth": 1},
 "axis": {"domain": false, "grid": true, "gridColor": "#EBEBEB", "labelFont": "Liberation Sans", "labelFontSize": 25.5, "labelColor": "#4D4D4D", "tickColor": "#333333", "tickSize": 5, "tickWidth": 1, "labelPadding": 3, "titleFont": "Liberation Sans", "titleFontSize": 33, "titleFontWeight": "normal", "titleColor": "#000000", "titlePadding": 3, "labelOverlap": false, "labelFlush": false},
 "axisX": {"labelAngle": 0, "titleFontSize": 34, "titlePadding": 6},
 "legend": {"labelFont": "Liberation Sans", "labelFontSize": 25.5, "labelColor": "#000000"}
}
}
